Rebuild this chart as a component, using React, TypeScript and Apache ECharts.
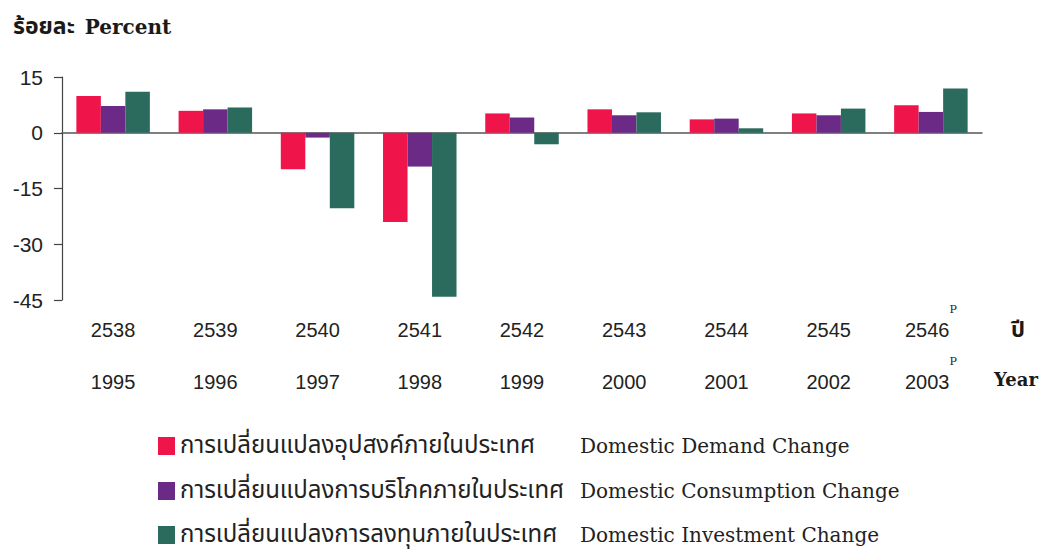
import React, { useEffect, useRef } from "react";
import * as echarts from "echarts";

const thaiYears = ["2538", "2539", "2540", "2541", "2542", "2543", "2544", "2545", "2546"];
const adYears = ["1995", "1996", "1997", "1998", "1999", "2000", "2001", "2002", "2003"];
const preliminary = [false, false, false, false, false, false, false, false, true];

const demandChange = [9.9, 5.9, -9.8, -24.0, 5.2, 6.3, 3.6, 5.2, 7.4];
const consumptionChange = [7.2, 6.3, -1.3, -9.1, 4.1, 4.7, 3.8, 4.7, 5.6];
const investmentChange = [11.0, 6.8, -20.3, -44.1, -3.1, 5.5, 1.2, 6.5, 11.9];

const seriesNamesEn = ["Domestic Demand Change", "Domestic Consumption Change", "Domestic Investment Change"];
const seriesNamesTh = [
  "การเปลี่ยนแปลงอุปสงค์ภายในประเทศ",
  "การเปลี่ยนแปลงการบริโภคภายในประเทศ",
  "การเปลี่ยนแปลงการลงทุนภายในประเทศ",
];
const seriesColors = ["#ef1449", "#6b2a86", "#2b6b5d"];

const yTicks = { min: -45, max: 15, interval: 15 };

const THAI_FONT = "'Noto Sans Thai', 'Noto Sans Thai Looped', 'Noto Sans', 'DejaVu Sans', sans-serif";
const SERIF_FONT = "'DejaVu Serif', 'Liberation Serif', serif";
const SANS_FONT = "'Liberation Sans', Arial, sans-serif";

export default function App() {
  const ref = useRef<HTMLDivElement>(null);

  useEffect(() => {
    if (!ref.current) return;
    const chart = echarts.init(ref.current, null, { renderer: "svg" });
    const categories = thaiYears.map((t, i) => t + "|" + adYears[i] + "|" + (preliminary[i] ? "P" : ""));
    const dataSets = [demandChange, consumptionChange, investmentChange];
    const legendTops = [434, 479, 523];

    chart.setOption({
      animation: false,
      backgroundColor: "#ffffff",
      title: {
        left: 8,
        top: 10,
        text: "{th|ร้อยละ}  {en|Percent}",
        textStyle: {
          rich: {
            th: { fontFamily: THAI_FONT, fontSize: 23, fontWeight: "bold", color: "#1a1a1a" },
            en: { fontFamily: SERIF_FONT, fontSize: 20, fontWeight: "bold", color: "#1a1a1a" },
          },
        },
      },
      grid: { left: 62, right: 72, top: 77, bottom: 252, containLabel: false },
      legend: seriesNamesEn.map((nm, k) => ({
        orient: "vertical",
        left: 158,
        top: legendTops[k],
        padding: 0,
        itemWidth: 17,
        itemHeight: 18,
        icon: "rect",
        data: [nm],
        formatter: (name: string) => {
          const i = seriesNamesEn.indexOf(name);
          return "{th|" + seriesNamesTh[i] + "}{en|" + name + "}";
        },
        textStyle: {
          rich: {
            th: { fontFamily: THAI_FONT, fontSize: 24, color: "#222", width: 400, lineHeight: 18 },
            en: { fontFamily: SERIF_FONT, fontSize: 20, color: "#222", lineHeight: 18 },
          },
        },
      })),
      xAxis: [
        {
          type: "category",
          data: categories,
          axisLine: { onZero: true, lineStyle: { color: "#555", width: 1.5 } },
          axisTick: { show: false },
          axisLabel: { show: false },
        },
        {
          type: "category",
          data: categories,
          position: "bottom",
          axisLine: { show: false, onZero: false },
          axisTick: { show: false },
          axisLabel: {
            margin: 4,
            interval: 0,
            formatter: (v: string) => {
              const [t, a, p] = v.split("|");
              const pp = p ? "{p|P}" : "";
              return "{n|" + t + "}" + pp + "\n{n|" + a + "}" + pp;
            },
            rich: {
              n: { fontFamily: SANS_FONT, fontSize: 20, color: "#222", lineHeight: 52 },
              p: { fontFamily: SERIF_FONT, fontSize: 11, color: "#222", lineHeight: 16, verticalAlign: "top" },
            },
          },
        },
      ],
      yAxis: {
        type: "value",
        min: yTicks.min,
        max: yTicks.max,
        interval: yTicks.interval,
        axisLine: { show: true, lineStyle: { color: "#444", width: 1.2 } },
        axisTick: { show: true, length: 8, lineStyle: { color: "#444", width: 1.2 } },
        axisLabel: { fontFamily: SANS_FONT, fontSize: 21, color: "#222", margin: 19 },
        splitLine: { show: false },
      },
      graphic: [
        {
          type: "text",
          left: 1011,
          top: 319,
          style: { text: "ปี", fontFamily: THAI_FONT, fontSize: 22, fontWeight: "bold", fill: "#1a1a1a" },
        },
        {
          type: "text",
          left: 994,
          top: 370,
          style: { text: "Year", fontFamily: SERIF_FONT, fontSize: 18, fontWeight: "bold", fill: "#1a1a1a" },
        },
      ],
      series: dataSets.map((d, i) => ({
        name: seriesNamesEn[i],
        type: "bar",
        xAxisIndex: 0,
        data: d,
        barWidth: 24.5,
        barGap: "0%",
        itemStyle: { color: seriesColors[i] },
      })),
    });

    return () => chart.dispose();
  }, []);

  return (
    <div
      ref={ref}
      style={{ position: "fixed", left: 0, top: 0, width: 1054, height: 552 }}
    />
  );
}
